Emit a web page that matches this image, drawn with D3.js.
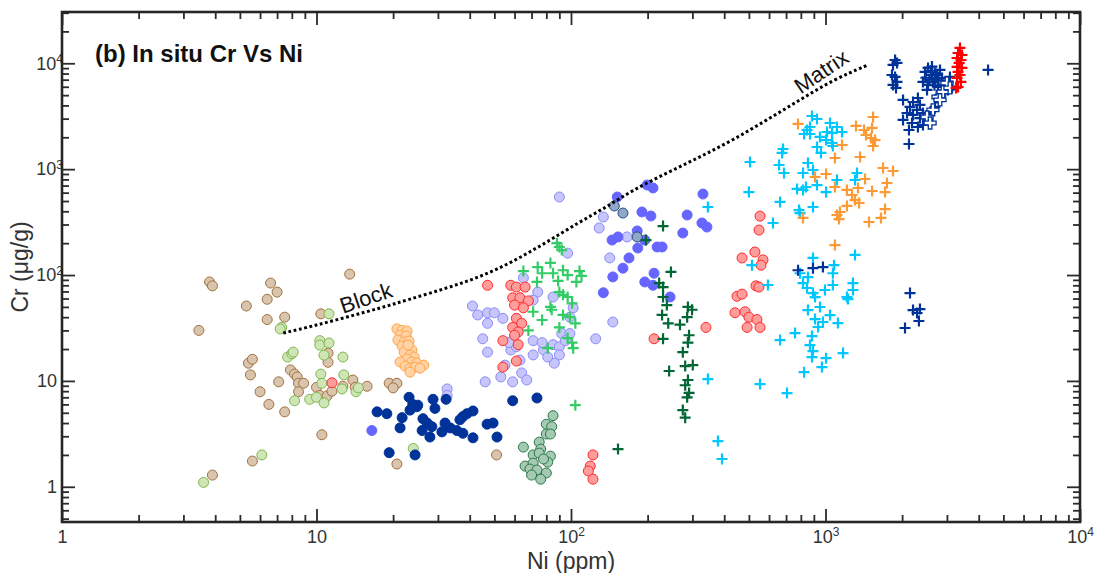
<!DOCTYPE html>
<html>
<head>
<meta charset="utf-8">
<script src="https://cdn.jsdelivr.net/npm/d3@7"></script>
<style>
body { margin: 0; background: #fff; }
svg { display: block; font-family: "Liberation Sans", Arial, sans-serif; }
</style>
</head>
<body>
<svg id="chart" width="1097" height="573"></svg>
<script>
// each point is [Ni (ppm), Cr (ug/g)]
var tanCircles = [[3.8,86],[3.9,79],[6.6,84],[7.0,69],[13.5,102],[6.4,59],[5.3,51],[6.4,38],[7.5,40],[3.45,30],
  [10.4,43],[5.4,14.7],[5.6,16],[5.5,11.4],[7.1,9.8],[6.0,7.9],[6.5,6.0],[7.5,5.1],[7.9,12.7],[8.2,11.6],
  [8.4,10.9],[8.5,9.5],[8.9,9.5],[8.5,7.9],[11.1,18.3],[11.1,15],[10.5,3.1],[10.0,8.7],[10.3,7.3],[11.0,7.2],
  [11.5,8.0],[12.7,8.9],[13.9,10.2],[14.2,8.7],[15.8,8.9],[19.3,9.5],[20.7,9.5],[20.0,8.6],[20.7,1.64],[5.6,1.75],
  [3.9,1.29],[51,2.0]];
var greenCircles = [[7.3,32],[7.2,31],[11.2,43],[7.7,16.8],[8.0,18],[8.1,18.7],[10.3,24],[10.3,21.8],[11.2,22.8],
  [10.7,17.5],[12.7,16.8],[10.4,11.6],[12.8,11.4],[10.5,9.5],[12.6,8.4],[14.3,7.9],[14.6,8.6],[8.2,6.5],[9.4,6.7],
  [10.0,7.0],[10.7,6.2],[6.1,2.0],[3.6,1.1],[24,2.3]];
var orangeCircles = [[20.7,31],[21.7,30],[22.7,29.6],[21.3,27],[22.5,26.5],[20.9,24.3],[22.1,23.3],[23.1,23.8],
  [21.7,21.3],[22.9,20.4],[23.7,19.6],[22.1,18.7],[23.3,17.5],[24.2,16.8],[22.7,16.1],[23.7,15.1],[24.8,14.7],
  [26.4,14.1],[21.3,15.1],[22.3,13.8],[23.3,13.2],[24.4,13.5],[23.3,12.1],[25.5,13.2],[22.9,21.8]];
var lavenderCircles = [[90,546],[134,353],[129,278],[97,161],[142,145],[166,229],[65,94],[74,69],[85,62],[71,58],
  [102,49],[99,40],[41,51],[43,42],[47,44],[50,44],[54,39],[47,35],[45,25],[47,18.7],[53,10.9],[46,9.8],[59,9.8],
  [64,11.9],[67,10.2],[58,19.6],[61,21],[57,23],[71,24],[78,19.6],[71,17.6],[77,23],[85,22],[90,21],[90,17.6],
  [86,14.7],[81,16.8],[92,28],[99,28],[95,24],[146,36],[125,25],[32.6,8.4],[32.6,7.3],[32,3.8],[63,15.7],[55,14.1]];
var redCircles = [[11.5,9.6],[47,80],[58,80],[61,77],[66,77],[59,61],[63,61],[68,57],[60,52],[65,49],[61,39],
  [64,35],[59,32],[62,29],[60,27],[54,24],[62,22],[61,15.4],[54,13.5],[212,25],[339,32],[122,2.0],[119,1.57],
  [117,1.41],[122,1.18],[553,360],[548,266],[528,165],[470,145],[568,139],[558,124],[533,79],[548,77],[449,63],
  [470,66],[441,44],[483,45],[500,40],[538,38],[492,32],[553,32]];
var navyCircles = [[23.1,7.0],[28.7,6.7],[32.3,6.7],[59,6.5],[73.5,6.9],[17.3,5.1],[18.9,4.9],[23.9,6.0],[24.8,5.7],
  [23.3,5.3],[21.7,4.5],[29.2,5.5],[21.3,3.6],[26.2,4.4],[27.2,4.0],[28.4,3.7],[26.0,3.4],[27.9,2.95],[31.1,3.3],
  [33.5,3.6],[36.6,4.3],[39,4.9],[41.2,5.2],[37.6,4.6],[35.6,3.4],[37.6,3.2],[41.2,2.9],[46.8,3.9],[49.4,4.0],
  [51.2,2.95],[19.3,2.1],[24.4,2.0],[32,4.0],[25,5.9]];
var blueCircles = [[16.5,3.4],[152,546],[199,708],[210,664],[190,394],[206,361],[330,582],[286,369],[327,310],
  [342,284],[275,249],[145,214],[153,229],[182,261],[183,180],[195,214],[218,184],[228,184],[169,145],[160,116],
  [146,96],[212,104],[195,86],[210,80],[245,62],[134,68]];
var steelCircles = [[148,449],[160,385],[182,229]];
var seaCircles = [[85,4.7],[80,3.9],[84,3.7],[80,3.15],[83,3.15],[75,2.64],[65,2.37],[76,2.27],[71,2.0],[75,2.08],
  [83,1.95],[81,1.71],[66,1.57],[71,1.67],[69,1.47],[73.5,1.44],[70,1.29],[80,1.35],[76,1.18],[78,1.83]];
var greenCrosses = [[88,200],[90,184],[92,172],[65,109],[74,119],[83,130],[77,104],[85,104],[93,111],[97,100],
  [108,109],[110,98],[105,86],[89,88],[73.5,86],[90,69],[93,65],[97,62],[101,54],[83,50],[84,47],[71,45],
  [77,37.6],[93,42],[99,40],[104,35],[90,32],[68,30],[97,25.4],[101,23],[102,20.4],[81,20.4],[104,5.9]];
var darkGreenCrosses = [[230,290],[197,214],[247,107],[222,84],[230,77],[230,62],[238,52],[228,42],[241,35],
  [288,50],[299,47],[286,40],[268,34],[230,25],[291,27],[288,23],[275,18.7],[301,14.1],[281,13.8],[243,12.4],
  [288,10.2],[281,9.1],[291,7.7],[286,7.0],[275,5.3],[281,4.5],[153,2.27]];
var cyanCrosses = [[345,439],[345,10.4],[378,2.7],[392,1.83],[885,3177],[926,2978],[869,2501],[846,2344],
  [824,2149],[869,2149],[1042,2729],[1109,2501],[1161,2244],[1014,2244],[1061,2198],[951,2014],[1005,1884],
  [1061,1766],[1069,1655],[926,1619],[960,1422],[681,1550],[675,1422],[505,1169],[657,1094],[687,920],
  [853,1143],[816,920],[893,982],[926,708],[1109,790],[1330,920],[1306,790],[773,650],[816,636],[838,678],
  [1005,608],[500,608],[663,490],[787,411],[794,385],[893,439],[622,310],[1306,155],[893,145],[514,124],
  [1080,124],[1069,104],[794,104],[853,95.7],[816,84],[846,75.4],[893,67.6],[910,61.9],[1069,80.5],[995,72.2],
  [1282,84],[1282,72.2],[1214,61.9],[1225,59.3],[594,80.5],[853,46.7],[951,49.9],[1042,41.9],[910,38.4],
  [977,36],[935,32.3],[1119,35.2],[759,28.3],[663,24.3],[885,26.5],[869,21.8],[893,19.1],[885,16.8],
  [1005,16.4],[1172,18.3],[968,13.5],[824,12.1],[553,9.34],[706,7.68]];
var orangeCrosses = [[780,2672],[1538,3110],[1318,2558],[1417,2344],[1524,2449],[1443,2102],[1510,1969],
  [1565,1884],[1538,1655],[1161,1691],[1367,1303],[1089,1275],[1683,1026],[1842,961],[910,843],[1005,900],
  [1430,807],[1089,678],[1214,636],[1342,664],[1524,622],[1744,740],[1714,608],[1271,570],[1306,511],
  [1355,479],[1214,449],[1140,394],[1109,369],[1130,338],[816,346],[1714,420],[1652,346],[1482,317],[1089,192]];
var navyCrosses = [[1877,10740],[1842,9640],[1910,10070],[1825,7750],[1877,7430],[1910,6660],[1842,6240],
  [1893,5850],[2460,8280],[2529,9030],[2618,7750],[2415,6660],[2529,6240],[2643,6660],[2742,7750],[2818,8650],
  [2871,7270],[2767,5970],[2506,5600],[2951,6240],[3029,6660],[3083,7430],[2951,5360],[3029,5600],[2818,5020],
  [3141,5850],[2600,8500],[2700,7200],[2560,7000],[2680,6200],[2480,7300],[2780,6900],[2620,9300],[2700,8100],
  [2017,4510],[2208,4310],[2307,4700],[2350,4040],[2148,3870],[2290,3630],[2091,3390],[2208,3250],[2415,3390],
  [2576,3390],[2017,2920],[2350,3040],[2529,2920],[2188,2729],[2415,2612],[2307,2501],[2128,2344],[2692,3870],
  [2128,1729],[4353,8650],[2148,67.6],[2208,46.7],[2350,47.7],[2290,43.8],[2328,36.8],[2053,31.6],[780,111],
  [893,116],[977,119]];
var navyHollowCrosses = [[2643,3630],[2506,3110],[2767,4810],[2576,2729],[3001,6510],[2895,5360],[3083,5850],[2818,4510]];
var redCrosses = [[3376,13960],[3318,12510],[3436,11970],[3288,11220],[3406,10740],[3349,10070],[3288,9230],
  [3436,9030],[3318,8280],[3376,7750],[3288,7270],[3406,6660],[3318,5970],[3258,5850]];

// dotted block-matrix curve
var curveNi = [7.4,9.7,13.2,17.8,22.7,32.6,43.9,59,80.5,108,138,175,238,321,433,589,794,1069,1469];
var curveCr = [28.3,33,40.1,48.8,58.1,75.4,95.7,133,205,317,439,636,920,1303,1884,2920,4510,6960,9640];

var xMajor = [1, 10, 100, 1000, 10000];
var yMajor = [1, 10, 100, 1000, 10000];

var series = [
  {data: tanCircles, shape: "circle", fill: "#d9c4ae", stroke: "#a3713f"},
  {data: greenCircles, shape: "circle", fill: "#d0e5b6", stroke: "#7db84f"},
  {data: orangeCircles, shape: "circle", fill: "#ffd3a6", stroke: "#ffa548"},
  {data: lavenderCircles, shape: "circle", fill: "#c6c6fd", stroke: "#8b8bf6"},
  {data: redCircles, shape: "circle", fill: "#ff9c9c", stroke: "#ff2b2b"},
  {data: navyCircles, shape: "circle", fill: "#003399", stroke: "#003399"},
  {data: blueCircles, shape: "circle", fill: "#6666ff", stroke: "#6666ff"},
  {data: steelCircles, shape: "circle", fill: "#8fa7c9", stroke: "#2c4b80"},
  {data: seaCircles, shape: "circle", fill: "#a5c9b2", stroke: "#2b7a4b"},
  {data: greenCrosses, shape: "cross", stroke: "#33cc66"},
  {data: darkGreenCrosses, shape: "cross", stroke: "#006633"},
  {data: cyanCrosses, shape: "cross", stroke: "#00c8ff"},
  {data: orangeCrosses, shape: "cross", stroke: "#ff9933"},
  {data: navyCrosses, shape: "cross", stroke: "#003399"},
  {data: navyHollowCrosses, shape: "hollow", fill: "#ffffff", stroke: "#003399"},
  {data: redCrosses, shape: "cross", stroke: "#ff0000"}
];

var svg = d3.select("#chart");
var plotLeft = 62, plotRight = 1080, plotTop = 12, plotBottom = 522;

var x = d3.scaleLog().domain([1, 1e4]).range([plotLeft, plotRight]);
var y = d3.scaleLog().domain([0.465, 30500]).range([plotBottom, plotTop]);

function minorTicks(scale) {
  let dom = scale.domain();
  let out = [];
  for (let d = 0.1; d < dom[1]; d *= 10) {
    for (let k = 2; k < 10; k++) {
      let v = d * k;
      if (v >= dom[0] && v <= dom[1]) out.push(v);
    }
  }
  return out;
}

function labelPow(sel) {
  sel.selectAll("text").each(function(d) {
    let t = d3.select(this);
    let p = Math.round(Math.log10(d));
    if (p < 2) return;
    t.text("");
    t.append("tspan").text("10");
    t.append("tspan").attr("dy", "-0.55em").style("font-size", "12px").text(p);
  });
}

function styleAxis(g) {
  g.select(".domain").remove();
  g.selectAll("line").attr("stroke", "#2b2b2b").attr("stroke-width", 1.8);
  g.selectAll("text").attr("fill", "#333").style("font-size", "18px")
    .style("font-family", "'Liberation Sans', Arial, sans-serif");
}

// minor ticks on all four sides
[[d3.axisBottom(x), `translate(0,${plotBottom})`, minorTicks(x)],
 [d3.axisTop(x), `translate(0,${plotTop})`, minorTicks(x)],
 [d3.axisLeft(y), `translate(${plotLeft},0)`, minorTicks(y)],
 [d3.axisRight(y), `translate(${plotRight},0)`, minorTicks(y)]].forEach(a => {
  svg.append("g").attr("transform", a[1])
    .call(a[0].tickValues(a[2]).tickSize(-7).tickFormat(""))
    .call(styleAxis);
});

svg.append("g").attr("transform", `translate(0,${plotTop})`)
  .call(d3.axisTop(x).tickValues(xMajor).tickSize(-13).tickFormat(""))
  .call(styleAxis);
svg.append("g").attr("transform", `translate(${plotRight},0)`)
  .call(d3.axisRight(y).tickValues(yMajor).tickSize(-13).tickFormat(""))
  .call(styleAxis);

var xAxis = svg.append("g").attr("transform", `translate(0,${plotBottom})`)
  .call(d3.axisBottom(x).tickValues(xMajor).tickSize(-13).tickPadding(8).tickFormat(d3.format("d")))
  .call(styleAxis);
labelPow(xAxis);

var yAxis = svg.append("g").attr("transform", `translate(${plotLeft},0)`)
  .call(d3.axisLeft(y).tickValues(yMajor).tickSize(-13).tickPadding(5).tickFormat(d3.format("d")))
  .call(styleAxis);
labelPow(yAxis);
yAxis.selectAll("text").filter(d => d >= 100).attr("x", 1);

// the frame
svg.append("rect")
  .attr("x", plotLeft).attr("y", plotTop)
  .attr("width", plotRight - plotLeft).attr("height", plotBottom - plotTop)
  .attr("fill", "none").attr("stroke", "#262626").attr("stroke-width", 2.6);

var plot = svg.append("g");

var crossPath = "M-5.5,0H5.5M0,-5.5V5.5";
var hollowPath = "M-1.8,-6H1.8V-1.8H6V1.8H1.8V6H-1.8V1.8H-6V-1.8H-1.8Z";

series.forEach(s => {
  let g = plot.append("g");
  if (s.shape == "circle") {
    g.selectAll("circle").data(s.data).join("circle")
      .attr("cx", d => x(d[0])).attr("cy", d => y(d[1]))
      .attr("r", 5)
      .attr("fill", s.fill).attr("stroke", s.stroke).attr("stroke-width", 1);
  } else {
    g.selectAll("path").data(s.data).join("path")
      .attr("transform", d => `translate(${x(d[0])},${y(d[1])})`)
      .attr("d", s.shape == "cross" ? crossPath : hollowPath)
      .attr("fill", s.shape == "cross" ? "none" : s.fill)
      .attr("stroke", s.stroke)
      .attr("stroke-width", s.shape == "cross" ? 2.2 : 1.3);
  }
});

var line = d3.line()
  .x(d => x(d[0])).y(d => y(d[1]))
  .curve(d3.curveBasis);
plot.append("path")
  .datum(curveNi.map((n, i) => [n, curveCr[i]]))
  .attr("d", line)
  .attr("fill", "none").attr("stroke", "#000")
  .attr("stroke-width", 3).attr("stroke-dasharray", "2.8,2.6");

// labels
svg.append("text").attr("x", 95).attr("y", 62)
  .style("font-size", "24px").style("font-weight", "bold").attr("fill", "#111")
  .text("(b) In situ Cr Vs Ni");

svg.append("text")
  .attr("transform", `translate(${x(16)},${y(52)}) rotate(-19)`)
  .attr("text-anchor", "middle")
  .style("font-size", "22px").attr("fill", "#111")
  .text("Block");

svg.append("text")
  .attr("transform", `translate(${x(1000)},${y(7300)}) rotate(-34)`)
  .attr("text-anchor", "middle")
  .style("font-size", "22px").attr("fill", "#111")
  .text("Matrix");

svg.append("text")
  .attr("x", (plotLeft + plotRight) / 2).attr("y", 569)
  .attr("text-anchor", "middle")
  .style("font-size", "23px").attr("fill", "#333")
  .text("Ni (ppm)");

svg.append("text")
  .attr("transform", `translate(28,${(plotTop + plotBottom) / 2}) rotate(-90)`)
  .attr("text-anchor", "middle")
  .style("font-size", "23px").attr("fill", "#333")
  .text("Cr (μg/g)");
</script>
</body>
</html>
